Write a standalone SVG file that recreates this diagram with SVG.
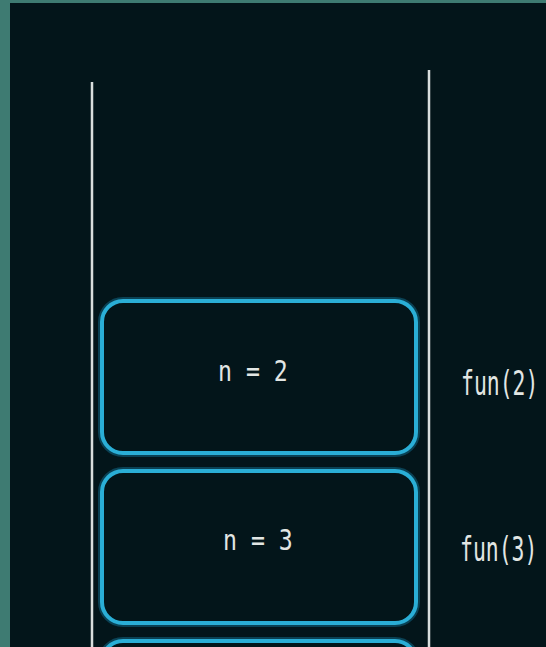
<svg xmlns="http://www.w3.org/2000/svg" width="546" height="647" viewBox="0 0 546 647">
  <style>
    .wall { stroke: #d9dedd; stroke-width: 2.5; fill: none; }
    .frame { fill: #03151a; stroke: #2aaed6; stroke-width: 4; }
    .glow { fill: none; stroke: #0f5f7c; stroke-width: 8; opacity: 0.6; }
    .val { font-family: "DejaVu Sans Mono", "Liberation Mono", monospace; font-size: 29px; fill: #e2e6e4; }
    .call { font-family: "DejaVu Sans Mono", "Liberation Mono", monospace; font-size: 34px; fill: #e2e6e4; }
  </style>
  <rect x="0" y="0" width="546" height="647" fill="#3e7b72"/>
  <rect x="10" y="3" width="536" height="644" fill="#03151a"/>
  <g id="connectors">
    <line class="wall" x1="92" y1="82" x2="92" y2="647"/>
    <line class="wall" x1="429" y1="70" x2="429" y2="647"/>
  </g>
  <g id="frame-n2">
    <rect class="glow" x="102" y="301" width="314" height="152" rx="21"/>
    <rect class="frame" x="102" y="301" width="314" height="152" rx="21"/>
    <text class="val" transform="translate(218,381) scale(0.8,1)">n = 2</text>
  </g>
  <g id="frame-n3">
    <rect class="glow" x="102" y="471" width="314" height="152" rx="21"/>
    <rect class="frame" x="102" y="471" width="314" height="152" rx="21"/>
    <text class="val" transform="translate(223,550) scale(0.8,1)">n = 3</text>
  </g>
  <g id="frame-next">
    <rect class="glow" x="102" y="641" width="314" height="60" rx="21"/>
    <rect class="frame" x="102" y="641" width="314" height="60" rx="21"/>
  </g>
  <g id="label-fun2">
    <text class="call" transform="translate(461,395) scale(0.63,1)">fun(2)</text>
  </g>
  <g id="label-fun3">
    <text class="call" transform="translate(460,561) scale(0.63,1)">fun(3)</text>
  </g>
</svg>
